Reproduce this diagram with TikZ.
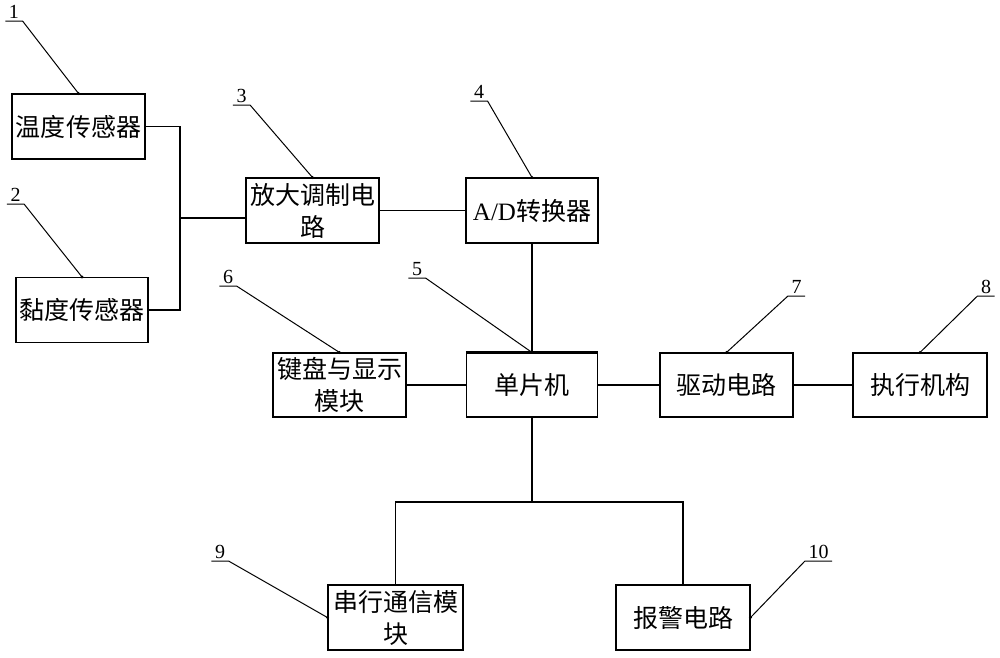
\documentclass[tikz,border=0pt]{standalone}
\usepackage{fontspec}
\setmainfont{Liberation Serif}
\newfontfamily\cjk{Noto Sans CJK SC}
\usetikzlibrary{positioning}

\tikzset{
  block/.style={draw, line width=1.1pt, minimum width=133pt, minimum height=65pt,
    inner sep=1pt, align=center, font=\cjk\fontsize{25}{32}\selectfont},
  num/.style={inner xsep=3pt, inner ysep=1.5pt, font=\fontsize{20}{20}\selectfont},
  lead/.style={line width=1pt},
}

\begin{document}
\begin{tikzpicture}[x=1pt, y=-1pt, line width=1.1pt]
  \useasboundingbox (0,0) rectangle (1000,657);

  % blocks
  \node[block, minimum width=133pt] (temp) at (78.5,126.5) {温度传感器};
  \node[block, minimum width=132pt] (visc) at (82,310) {黏度传感器};
  \node[block] (amp) at (312.5,210.5) {放大调制电\\路};
  \node[block, minimum width=132pt] (ad) at (532,210.5) {{\rmfamily A/D}转换器};
  \node[block, minimum width=131pt, minimum height=64pt] (mcu) at (532,385) {单片机};
  \node[block, minimum height=64pt] (key) at (339.5,385) {键盘与显示\\模块};
  \node[block, minimum height=64pt] (drive) at (726.5,385) {驱动电路};
  \node[block, minimum width=134pt, minimum height=64pt] (act) at (920,385) {执行机构};
  \node[block, minimum width=135pt] (serial) at (395.5,617.5) {串行通信模\\块};
  \node[block, minimum width=134pt] (alarm) at (683,617.5) {报警电路};
  \draw[line width=2pt] (mcu.north west) -- (mcu.north east);

  % connections
  \coordinate (join) at (180,218);
  \coordinate (bus) at (532,502);
  \draw (temp.east) -| (join) |- (visc.east);
  \draw (join) -- (join -| amp.west);
  \draw (amp) -- (ad);
  \draw (ad) -- (mcu);
  \draw (key) -- (mcu);
  \draw (mcu) -- (drive);
  \draw (drive) -- (act);
  \draw (mcu.south) -- (bus);
  \draw (serial.north) |- (bus) -| (alarm.north);

  % part numbers
  \node[num, anchor=south] (n1) at (14,21) {1};
  \node[num, anchor=south] (n2) at (15.5,204) {2};
  \node[num, anchor=south] (n3) at (241.5,105) {3};
  \node[num, anchor=south] (n4) at (479,101) {4};
  \node[num, anchor=south] (n5) at (417,278) {5};
  \node[num, anchor=south] (n6) at (228,286) {6};
  \node[num, anchor=south] (n7) at (796.5,296) {7};
  \node[num, anchor=south] (n8) at (986,296) {8};
  \node[num, anchor=south] (n9) at (220,561) {9};
  \node[num, anchor=south] (n10) at (818.5,561) {10};

  \draw[lead] (n1.south west) -- (n1.south east) -- (temp.north);
  \draw[lead] (n2.south west) -- (n2.south east) -- (visc.north);
  \draw[lead] (n3.south west) -- (n3.south east) -- (amp.north);
  \draw[lead] (n4.south west) -- (n4.south east) -- (ad.north);
  \draw[lead] (n5.south west) -- (n5.south east) -- (mcu.north);
  \draw[lead] (n6.south west) -- (n6.south east) -- (key.north);
  \draw[lead] (n7.south east) -- (n7.south west) -- (drive.north);
  \draw[lead] (n8.south east) -- (n8.south west) -- (act.north);
  \draw[lead] (n9.south west) -- (n9.south east) -- (serial.west);
  \draw[lead] (n10.south east) -- (n10.south west) -- (alarm.east);

  \fill (temp.north) circle (1.6pt);
  \fill (visc.north) circle (1.6pt);
  \fill (amp.north) circle (1.6pt);
  \fill (ad.north) circle (1.6pt);
  \fill (key.north) circle (1.6pt);
  \fill (drive.north) circle (1.6pt);
  \fill (act.north) circle (1.6pt);
  \fill (serial.west) circle (1.6pt);
  \fill (alarm.east) circle (1.6pt);
\end{tikzpicture}
\end{document}
